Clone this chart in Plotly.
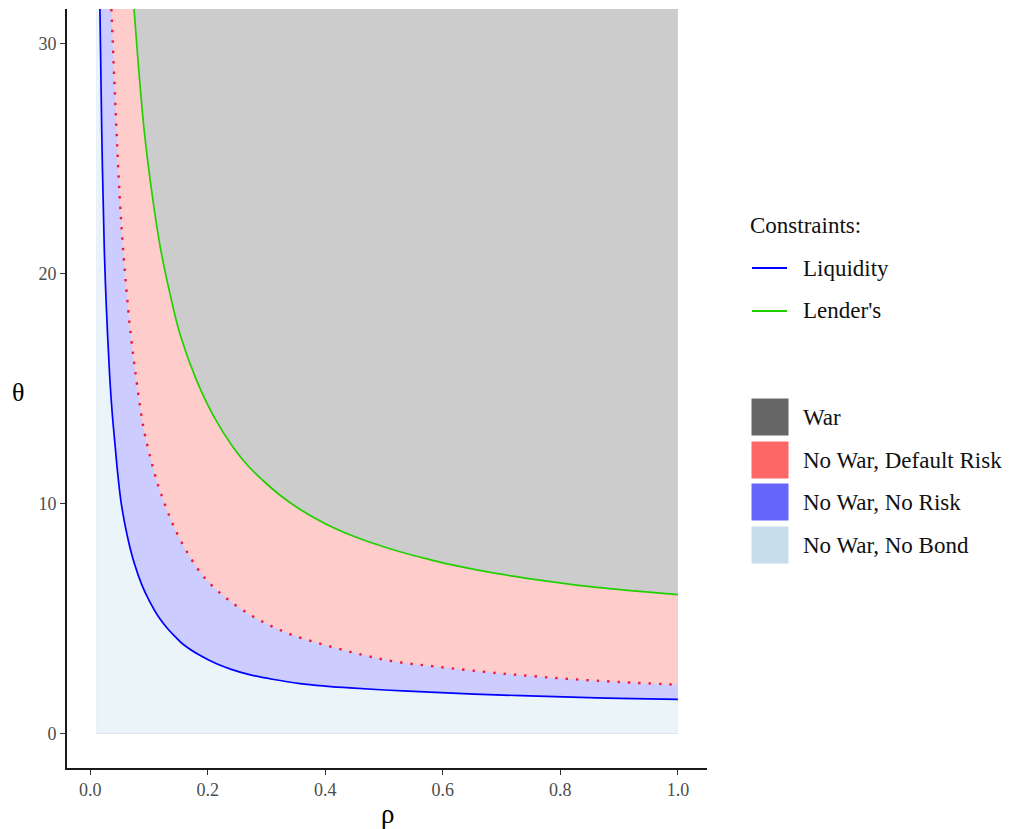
import plotly.graph_objects as go

# ---------------- data ----------------
RHO_MIN = 0.01
RHO_MAX = 1.0
THETA_TOP = 31.5   # top of visible panel

# Liquidity constraint (blue, solid)
rho_liq = [0.0165, 0.0196, 0.0240, 0.0275, 0.0332, 0.0375, 0.0417, 0.047, 0.0531, 0.063,
           0.075, 0.088, 0.101, 0.115, 0.130, 0.145, 0.158, 0.185, 0.215, 0.240,
           0.271, 0.310, 0.357, 0.400, 0.442, 0.510, 0.578, 0.690, 0.805, 0.900, 1.0]
theta_liq = [31.5, 26.2, 21.0, 18.5, 15.5, 13.9, 12.7, 11.25, 9.95, 8.6,
             7.4, 6.45, 5.74, 5.12, 4.61, 4.2, 3.88, 3.42, 3.03, 2.79,
             2.56, 2.36, 2.17, 2.06, 1.98, 1.88, 1.80, 1.68, 1.59, 1.53, 1.48]

# Default-risk boundary (red, dotted)
rho_def = [0.036, 0.0446, 0.050, 0.0558, 0.0644, 0.0705, 0.0769, 0.0899, 0.1013, 0.1154,
           0.128, 0.141, 0.164, 0.195, 0.2346, 0.277, 0.310, 0.342, 0.385, 0.4276,
           0.470, 0.515, 0.591, 0.691, 0.750, 0.816, 0.900, 1.0]
theta_def = [31.5, 26.3, 23.4, 21.1, 18.5, 17.0, 15.7, 13.4, 12.1, 10.8,
             9.9, 9.07, 7.92, 6.76, 5.82, 5.09, 4.65, 4.30, 3.95, 3.65,
             3.38, 3.14, 2.90, 2.63, 2.50, 2.37, 2.24, 2.12]

# Lender's constraint (green, solid)
rho_len = [0.0746, 0.0911, 0.105, 0.1195, 0.135, 0.1523, 0.1794, 0.210, 0.2431, 0.270,
           0.294, 0.3226, 0.3566, 0.400, 0.4417, 0.480, 0.527, 0.578, 0.612, 0.660,
           0.7197, 0.790, 0.8616, 0.930, 1.0]
theta_len = [31.5, 26.4, 23.5, 21.1, 19.2, 17.4, 15.45, 13.8, 12.45, 11.6,
             11.0, 10.37, 9.75, 9.12, 8.64, 8.28, 7.9, 7.56, 7.35, 7.1,
             6.84, 6.58, 6.35, 6.19, 6.04]

x_ticks = [0.0, 0.2, 0.4, 0.6, 0.8, 1.0]
x_tick_labels = ["0.0", "0.2", "0.4", "0.6", "0.8", "1.0"]
y_ticks = [0, 10, 20, 30]
y_tick_labels = ["0", "10", "20", "30"]

constraint_names = ["Liquidity", "Lender's"]
region_names = ["War", "No War, Default Risk", "No War, No Risk", "No War, No Bond"]

# ---------------- styles ----------------
FONT = "Liberation Serif"
C_LIQ = "#0000FF"
C_LEN = "#22D000"
C_DEF = "#F01838"
region_fill = ["#CCCCCC", "#FFCCCC", "#CCCCFF", "#EBF4F9"]
region_key = ["#666666", "#FF6666", "#6666FF", "#C6DEEB"]

fig = go.Figure()

# War (background rectangle)
fig.add_trace(go.Scatter(
    x=[RHO_MIN, RHO_MIN, RHO_MAX, RHO_MAX], y=[0, THETA_TOP, THETA_TOP, 0],
    fill="toself", fillcolor=region_fill[0], mode="lines", line=dict(width=0),
    hoverinfo="skip", showlegend=False))

# areas below each boundary, layered (column left of curve + area under curve)
for rx, ry, col in [(rho_len, theta_len, region_fill[1]),
                    (rho_def, theta_def, region_fill[2]),
                    (rho_liq, theta_liq, region_fill[3])]:
    fig.add_trace(go.Scatter(
        x=[RHO_MIN, RHO_MIN, rx[0], rx[0]], y=[0, THETA_TOP, THETA_TOP, 0],
        fill="toself", fillcolor=col, mode="lines", line=dict(width=0),
        hoverinfo="skip", showlegend=False))
    fig.add_trace(go.Scatter(
        x=rx, y=ry, fill="tozeroy", fillcolor=col,
        mode="lines", line=dict(width=0, shape="spline", smoothing=1.0),
        hoverinfo="skip", showlegend=False))

# boundary lines
fig.add_trace(go.Scatter(x=rho_def, y=theta_def, mode="lines", showlegend=False,
                         line=dict(color=C_DEF, width=2.4, dash="2.4px,8px", shape="spline")))
fig.add_trace(go.Scatter(x=rho_liq, y=theta_liq, mode="lines", name=constraint_names[0],
                         showlegend=False, line=dict(color=C_LIQ, width=1.7, shape="spline")))
fig.add_trace(go.Scatter(x=rho_len, y=theta_len, mode="lines", name=constraint_names[1],
                         showlegend=False, line=dict(color=C_LEN, width=1.7, shape="spline")))

# ---------------- layout ----------------
W, H = 1032, 829
ML, MR, MT, MB = 59, 333, 1, 69          # page body has an 8px offset
PX_L, PX_R, PX_T, PX_B = 67, 707, 9, 768  # plot area in page pixels


def px(xp):
    return (xp - PX_L) / (PX_R - PX_L)


def py(yp):
    return (PX_B - yp) / (PX_B - PX_T)


shapes = []
annotations = []
LEG_SIZE = 23

# Constraints legend
annotations.append(dict(x=px(748), y=py(226), xref="paper", yref="paper", text="Constraints:",
                        showarrow=False, xanchor="left", yanchor="middle",
                        font=dict(family=FONT, size=LEG_SIZE, color="#111111")))
for i, (name, col) in enumerate(zip(constraint_names, [C_LIQ, C_LEN])):
    yc = 268 + i * 43
    shapes.append(dict(type="line", xref="paper", yref="paper", x0=px(752), x1=px(787),
                       y0=py(yc), y1=py(yc), line=dict(color=col, width=2)))
    annotations.append(dict(x=px(801), y=py(yc), xref="paper", yref="paper", text=name,
                            showarrow=False, xanchor="left", yanchor="middle",
                            font=dict(family=FONT, size=LEG_SIZE, color="#111111")))

# Region legend
key_tops = [398, 441, 483, 526]
for name, col, top in zip(region_names, region_key, key_tops):
    shapes.append(dict(type="rect", xref="paper", yref="paper", x0=px(751), x1=px(789),
                       y0=py(top + 38), y1=py(top), fillcolor=col,
                       line=dict(color="white", width=1)))
    annotations.append(dict(x=px(801), y=py(top + 19), xref="paper", yref="paper", text=name,
                            showarrow=False, xanchor="left", yanchor="middle",
                            font=dict(family=FONT, size=LEG_SIZE, color="#111111")))

# axis titles
annotations.append(dict(x=px(387), y=py(814), xref="paper", yref="paper", text="ρ",
                        showarrow=False, xanchor="center", yanchor="middle",
                        font=dict(family=FONT, size=27, color="black")))
annotations.append(dict(x=px(18), y=py(392), xref="paper", yref="paper", text="θ",
                        showarrow=False, xanchor="center", yanchor="middle",
                        font=dict(family=FONT, size=26, color="black")))

axis_common = dict(showgrid=False, zeroline=False, showline=True, linecolor="#1a1a1a",
                   linewidth=1.6, ticks="outside", ticklen=5, tickwidth=1.3,
                   tickcolor="#333333",
                   tickfont=dict(family=FONT, size=18, color="#4D4D4D"))

fig.update_layout(
    width=W, height=H,
    margin=dict(l=ML, r=MR, t=MT, b=MB),
    paper_bgcolor="white", plot_bgcolor="white",
    showlegend=False,
    xaxis=dict(range=[-0.0395, 1.0495], tickvals=x_ticks, ticktext=x_tick_labels, **axis_common),
    yaxis=dict(range=[-1.5, 31.5], tickvals=y_ticks, ticktext=y_tick_labels, **axis_common),
    shapes=shapes, annotations=annotations,
)

fig.write_html("out.html")
